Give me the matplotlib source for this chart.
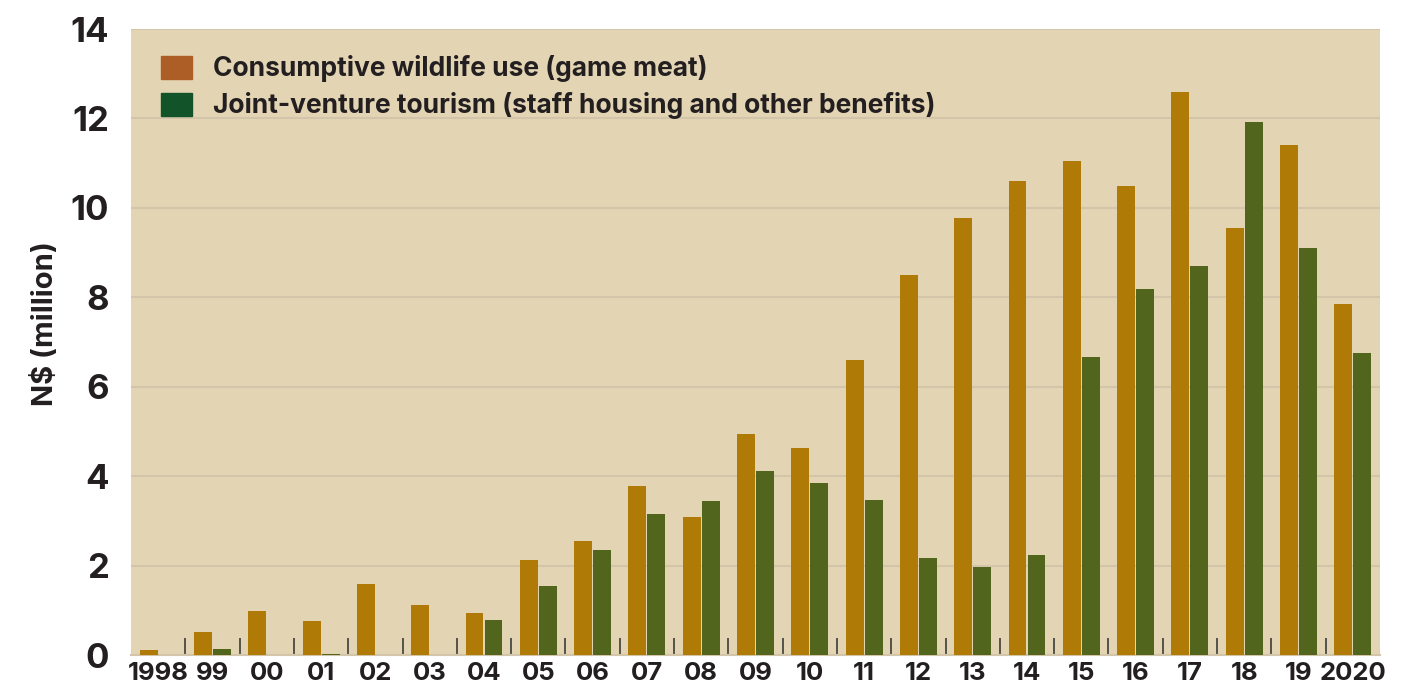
import numpy as np
import matplotlib.pyplot as plt
from matplotlib.patches import Patch
from matplotlib.ticker import FixedLocator

plt.rcParams['font.family'] = ['Inter', 'DejaVu Sans']

years = ['1998', '99', '00', '01', '02', '03', '04', '05', '06', '07', '08', '09',
         '10', '11', '12', '13', '14', '15', '16', '17', '18', '19', '2020']
# N$ million per year
game_meat = [0.11, 0.51, 0.98, 0.75, 1.58, 1.11, 0.95, 2.12, 2.56, 3.77, 3.08, 4.94,
             4.62, 6.59, 8.49, 9.77, 10.61, 11.04, 10.48, 12.58, 9.56, 11.40, 7.84]
tourism = [0.01, 0.13, 0.01, 0.03, 0.01, 0.01, 0.78, 1.54, 2.34, 3.15, 3.44, 4.11,
           3.84, 3.46, 2.18, 1.96, 2.23, 6.66, 8.18, 8.69, 11.91, 9.11, 6.75]

labels = ['Consumptive wildlife use (game meat)',
          'Joint-venture tourism (staff housing and other benefits)']

BAR_ORANGE = '#B07A06'
BAR_GREEN = '#51661C'
KEY_ORANGE = '#AD5E27'
KEY_GREEN = '#12532A'
BG = '#E3D5B4'
GRID = '#D3C5A9'
TEXT = '#231F20'

fig = plt.figure(figsize=(14.02, 6.93), dpi=100)
ax = fig.add_axes([131 / 1402, 38 / 693, 1249 / 1402, 626 / 693])
ax.set_facecolor(BG)

x = np.arange(len(years))
w = 0.33
ax.bar(x - w / 2 - 0.01, game_meat, width=w, color=BAR_ORANGE, zorder=3)
ax.bar(x + w / 2 + 0.01, tourism, width=w, color=BAR_GREEN, zorder=3)

ax.set_xlim(-0.5, len(years) - 0.5)
ax.set_ylim(0, 14)
ax.set_yticks(range(0, 15, 2))
ax.set_xticks(x)
ax.set_xticklabels(years)
ax.yaxis.grid(True, color=GRID, linewidth=1.5, zorder=0)
ax.set_axisbelow(True)

for s in ['left', 'right', 'top']:
    ax.spines[s].set_visible(False)
ax.spines['bottom'].set_color(GRID)
ax.spines['bottom'].set_linewidth(1.5)

# separators between year groups
ax.xaxis.set_minor_locator(FixedLocator(np.arange(0.5, len(years) - 1, 1)))
ax.tick_params(axis='x', which='minor', direction='in', length=12.5, width=1.1,
               color='#2E2E2E')
ax.tick_params(axis='x', which='major', length=0, pad=5, labelsize=18.5,
               labelcolor=TEXT)
ax.tick_params(axis='y', length=0, pad=16, labelsize=25, labelcolor=TEXT)
for t in ax.get_xticklabels() + ax.get_yticklabels():
    t.set_fontweight('bold')

ax.set_ylabel('N$ (million)', fontsize=21, fontweight='bold', color=TEXT)
ax.yaxis.set_label_coords(-0.058, 0.53)

handles = [Patch(color=KEY_ORANGE), Patch(color=KEY_GREEN)]
leg = ax.legend(handles, labels, loc='upper left', bbox_to_anchor=(0.005, 0.996),
                frameon=False, prop={'size': 19, 'weight': 'bold'},
                handlelength=1.17, handleheight=0.98, handletextpad=0.8,
                labelspacing=0.38)
for t in leg.get_texts():
    t.set_color(TEXT)

fig.savefig('out.png', dpi=100)
